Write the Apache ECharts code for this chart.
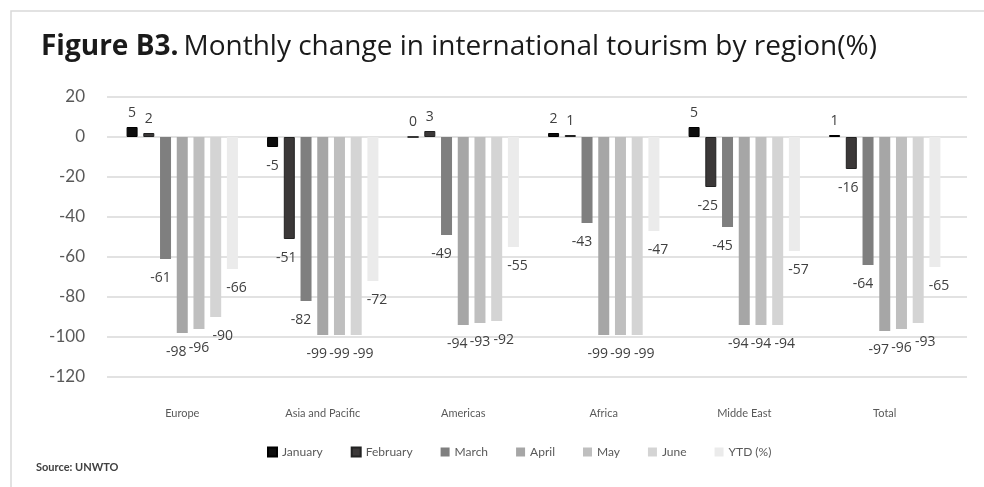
<!DOCTYPE html>
<html>
<head>
<meta charset="utf-8">
<script src="https://cdn.jsdelivr.net/npm/echarts@6/dist/echarts.min.js"></script>
<style>
html,body{margin:0;padding:0;background:#fff;}
#chart{width:984px;height:487px;}
</style>
</head>
<body>
<div id="chart"></div>
<script>
const regions = ['Europe', 'Asia and Pacific', 'Americas', 'Africa', 'Midde East', 'Total'];
const seriesNames = ['January', 'February', 'March', 'April', 'May', 'June', 'YTD (%)'];
const january  = [5, -5, 0, 2, 5, 1];
const february = [2, -51, 3, 1, -25, -16];
const march    = [-61, -82, -49, -43, -45, -64];
const april    = [-98, -99, -94, -99, -94, -97];
const may      = [-96, -99, -93, -99, -94, -96];
const june     = [-90, -99, -92, -99, -94, -93];
const ytd      = [-66, -72, -55, -47, -57, -65];
const yTicks = [20, 0, -20, -40, -60, -80, -100, -120];

const allValues = [january, february, march, april, may, june, ytd];
const colors = ['#0d0d0d', '#3b3838', '#7f7f7f', '#a6a6a6', '#bfbfbf', '#d4d4d4', '#ebebeb'];
const borders = ['#000000', '#222222', '#7f7f7f', '#a6a6a6', '#bfbfbf', '#d4d4d4', '#ebebeb'];
const labelShift = [0, -3, -5, -6, 0, 7, 4];

const yMin = Math.min(...yTicks), yMax = Math.max(...yTicks);
const step = yTicks[0] - yTicks[1];

const chart = echarts.init(document.getElementById('chart'));
const font = 'Lato, "Noto Sans", sans-serif';
const labelFont = '"Open Sans", "Noto Sans", sans-serif';

const series = allValues.map((vals, i) => ({
  name: seriesNames[i],
  type: 'bar',
  xAxisIndex: 1,
  yAxisIndex: 1,
  barWidth: 11,
  barGap: '52%',
  itemStyle: { color: colors[i], borderColor: borders[i], borderWidth: i < 2 ? 1 : 0 },
  data: vals.map(v => ({
    value: v,
    label: {
      show: true,
      position: v < 0 ? 'bottom' : 'top',
      distance: v < 0 ? 12 : 7,
      offset: [v < 0 ? labelShift[i] : 0, 0],
      color: '#404040',
      fontSize: 14,
      fontFamily: labelFont
    }
  }))
}));

chart.setOption({
  animation: false,
  backgroundColor: '#ffffff',
  title: {
    left: 36,
    top: 28,
    text: '{b|Figure B3.} {r|Monthly change in international tourism by region(%)}',
    textStyle: {
      rich: {
        b: { fontSize: 28, fontWeight: 'bold', color: '#1a1a1a', fontFamily: labelFont },
        r: { fontSize: 28, fontWeight: 'normal', color: '#1a1a1a', fontFamily: labelFont }
      }
    }
  },
  legend: {
    left: 262,
    top: 441,
    itemWidth: 9,
    itemHeight: 9,
    itemGap: 28,
    icon: 'rect',
    textStyle: { color: '#595959', fontSize: 12, fontFamily: font },
    data: seriesNames
  },
  grid: [
    { left: 107, right: 17, top: 97, bottom: 110 },
    { left: 112, right: 29, top: 97, bottom: 110 }
  ],
  xAxis: [
    { gridIndex: 0, type: 'value', min: 0, max: 1, show: false },
    {
      gridIndex: 1,
      type: 'category',
      data: regions,
      axisLine: { show: false, onZero: false },
      axisTick: { show: false },
      axisLabel: { color: '#595959', fontSize: 11, fontFamily: font, margin: 31 }
    }
  ],
  yAxis: [
    {
      gridIndex: 0,
      type: 'value',
      min: yMin, max: yMax, interval: step,
      axisLine: { show: false },
      axisTick: { show: false },
      axisLabel: { color: '#595959', fontSize: 17, fontFamily: font, margin: 22 },
      splitLine: { lineStyle: { color: '#d9d9d9', width: 1.5 } }
    },
    {
      gridIndex: 1,
      type: 'value',
      min: yMin, max: yMax, interval: step,
      show: false,
      splitLine: { show: false }
    }
  ],
  graphic: [
    {
      type: 'rect',
      shape: { x: 11, y: 11, width: 1000, height: 500 },
      style: { fill: 'none', stroke: '#d9d9d9', lineWidth: 1.5 },
      silent: true
    },
    {
      type: 'text',
      left: 36,
      top: 462,
      style: { text: 'Source: UNWTO', fill: '#404040', font: 'bold 11px ' + font }
    }
  ],
  series: series
});
</script>
</body>
</html>
